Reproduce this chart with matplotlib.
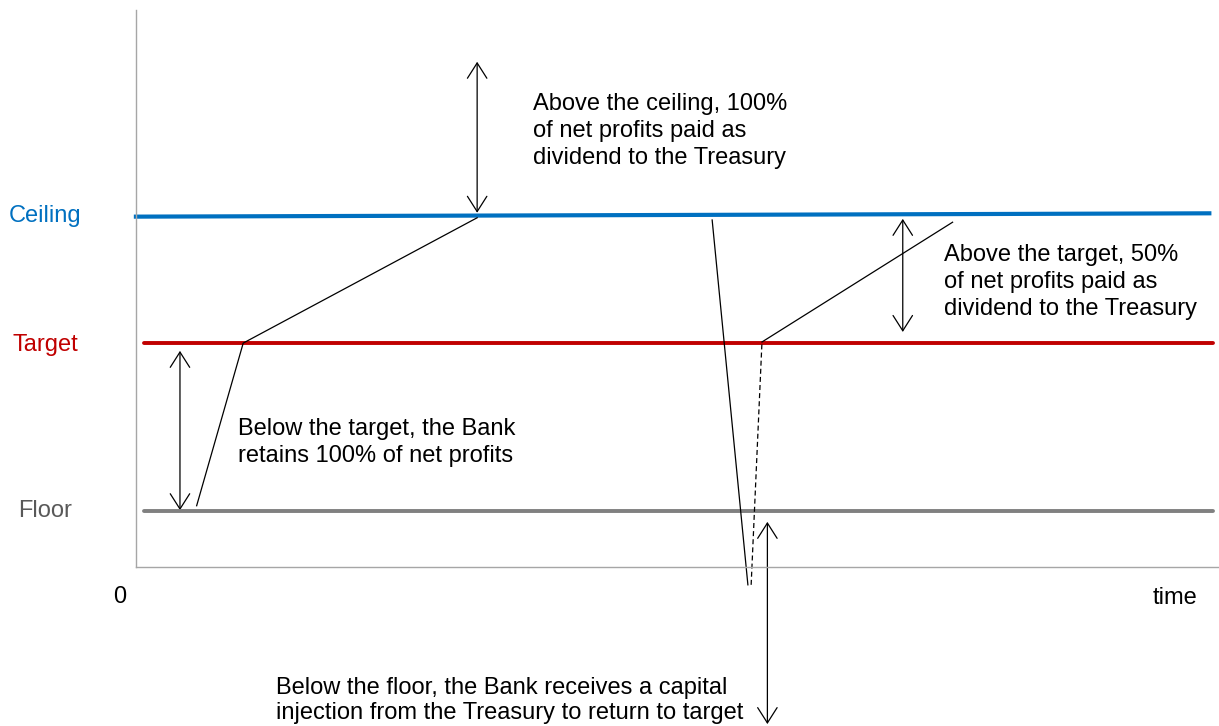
import matplotlib.pyplot as plt
from matplotlib.patches import FancyArrowPatch

plt.rcParams['font.family'] = ['Liberation Sans', 'DejaVu Sans']

# Levels of capital (arbitrary units, 0-100) over time (0-100)
ceiling_x = [-0.2, 99.3]
ceiling_y = [62.9, 63.5]
target_x = [0.74, 99.4]
target_y = [40.2, 40.2]
floor_x = [0.74, 99.4]
floor_y = [10.05, 10.05]

# Illustrative capital paths
path1_x = [5.6, 9.9, 31.5]
path1_y = [11.0, 40.2, 62.7]
drop_x = [53.2, 56.5]
drop_y = [62.3, -3.2]
inject_x = [56.8, 57.8]
inject_y = [-3.2, 40.4]
rise_x = [57.8, 75.4]
rise_y = [40.4, 61.9]

# Double-headed arrows: (x, y_start, y_end)
arrows = [
    (31.5, 90.7, 63.6),
    (4.06, 38.8, 10.2),
    (70.8, 62.5, 42.2),
    (58.3, 8.1, -28.2),
]

notes = [
    (36.7, 78.3, 'Above the ceiling, 100%\nof net profits paid as\ndividend to the Treasury', 1.3),
    (74.6, 51.2, 'Above the target, 50%\nof net profits paid as\ndividend to the Treasury', 1.3),
    (9.4, 22.3, 'Below the target, the Bank\nretains 100% of net profits', 1.3),
    (12.9, -24.0, 'Below the floor, the Bank receives a capital\ninjection from the Treasury to return to target', 1.2),
]

level_labels = ['Ceiling', 'Target', 'Floor']
level_values = [63.0, 39.9, 10.0]
level_colors = ['#0070C0', '#C00000', '#595959']

fig = plt.figure(figsize=(12.19, 7.26), dpi=100)
ax = fig.add_axes([136 / 1219, 159 / 726, 1083 / 1219, 557 / 726])
ax.set_xlim(0, 100)
ax.set_ylim(0, 100)

ax.plot(ceiling_x, ceiling_y, color='#0070C0', lw=3, clip_on=False, solid_capstyle='butt')
ax.plot(target_x, target_y, color='#C00000', lw=2.8, clip_on=False, solid_capstyle='round')
ax.plot(floor_x, floor_y, color='#808080', lw=2.8, clip_on=False, solid_capstyle='round')

ax.plot(path1_x, path1_y, color='black', lw=0.9, clip_on=False)
ax.plot(drop_x, drop_y, color='black', lw=0.9, clip_on=False)
ax.plot(inject_x, inject_y, color='black', lw=0.9, ls=(0, (4, 2.5)), clip_on=False)
ax.plot(rise_x, rise_y, color='black', lw=0.9, clip_on=False)

for x, y0, y1 in arrows:
    arr = FancyArrowPatch((x, y0), (x, y1), arrowstyle='<->,head_length=11,head_width=7',
                          mutation_scale=1, color='black', lw=0.9, shrinkA=0, shrinkB=0,
                          clip_on=False)
    ax.add_patch(arr)

for x, y, txt, ls in notes:
    ax.text(x, y, txt, ha='left', va='center', fontsize=17, linespacing=ls, clip_on=False)

for lab, val, col in zip(level_labels, level_values, level_colors):
    ax.text(-8.4, val, lab, ha='center', va='center', fontsize=17, color=col, clip_on=False)

ax.text(-1.5, -5.3, '0', ha='center', va='center', fontsize=17)
ax.text(95.9, -5.6, 'time', ha='center', va='center', fontsize=17)

for s in ['top', 'right']:
    ax.spines[s].set_visible(False)
for s in ['left', 'bottom']:
    ax.spines[s].set_color('#A6A6A6')
    ax.spines[s].set_linewidth(1)
ax.set_xticks([])
ax.set_yticks([])

fig.savefig('out.png', dpi=100)
